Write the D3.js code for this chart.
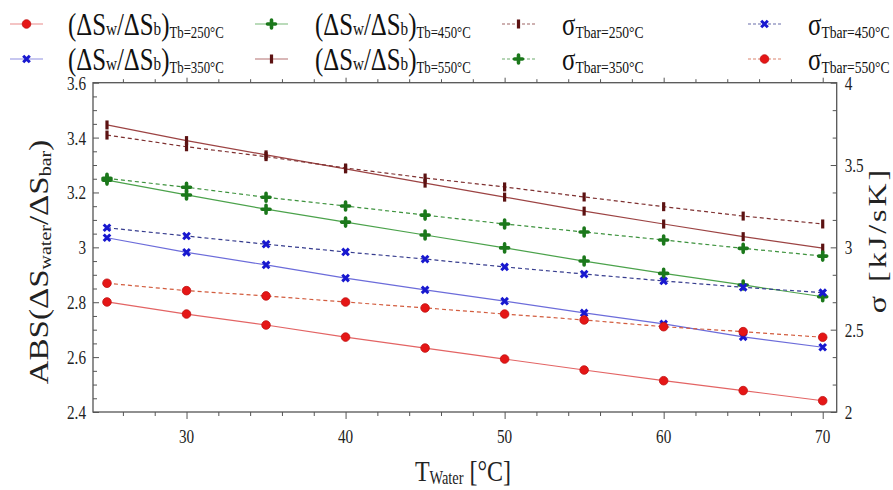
<!DOCTYPE html>
<html><head><meta charset="utf-8">
<script src="https://cdn.jsdelivr.net/npm/d3@7"></script>
<style>body{margin:0;background:#fff} svg{display:block}</style>
</head><body><svg id="c" width="893" height="490"></svg>
<script>
const temps = [25,30,35,40,45,50,55,60,65,70];
const ratioTb250 = [2.801,2.757,2.717,2.673,2.633,2.593,2.553,2.514,2.478,2.441];
const ratioTb350 = [3.035,2.982,2.936,2.888,2.845,2.804,2.761,2.721,2.674,2.636];
const ratioTb450 = [3.245,3.191,3.139,3.092,3.045,2.998,2.950,2.905,2.863,2.820];
const ratioTb550 = [3.446,3.389,3.337,3.286,3.234,3.183,3.132,3.085,3.039,2.997];
const sigma250 = [3.682,3.611,3.551,3.482,3.421,3.367,3.306,3.247,3.190,3.142];
const sigma350 = [3.419,3.365,3.304,3.251,3.196,3.142,3.093,3.045,2.994,2.947];
const sigma450 = [3.119,3.069,3.019,2.972,2.929,2.881,2.838,2.796,2.757,2.725];
const sigma550 = [2.782,2.737,2.705,2.668,2.632,2.595,2.559,2.518,2.488,2.454];
const xTickLabels = [30,40,50,60,70];
const leftTickLabels = [2.4,2.6,2.8,3,3.2,3.4,3.6];
const rightTickLabels = [2,2.5,3,3.5,4];

const FONT = '"Liberation Serif","Times New Roman","DejaVu Serif",serif';
const SX = 0.8;
const svg = d3.select('#c');
const L = 93, R = 836.7, T = 82.7, B = 412;
const x = d3.scaleLinear().domain([24.12, 70.88]).range([L, R]);
const yL = d3.scaleLinear().domain([2.4, 3.6]).range([B, T]);
const yR = d3.scaleLinear().domain([2, 4]).range([B, T]);

const series = [
  {vals: ratioTb250, axis: 'L', line: '#e36464', mc: '#e51616', m: 'circle', dash: false, sub: 'Tb=250°C', kind: 'ds'},
  {vals: ratioTb350, axis: 'L', line: '#6c6cda', mc: '#1818cf', m: 'x', dash: false, sub: 'Tb=350°C', kind: 'ds'},
  {vals: ratioTb450, axis: 'L', line: '#4ba24b', mc: '#1b781b', m: 'plus', dash: false, sub: 'Tb=450°C', kind: 'ds'},
  {vals: ratioTb550, axis: 'L', line: '#9c4343', mc: '#5c1212', m: 'bar', dash: false, sub: 'Tb=550°C', kind: 'ds'},
  {vals: sigma250, axis: 'R', line: '#7e3030', mc: '#5c1212', m: 'bar', dash: true, sub: 'Tbar=250°C', kind: 's'},
  {vals: sigma350, axis: 'R', line: '#3d923d', mc: '#1b781b', m: 'plus', dash: true, sub: 'Tbar=350°C', kind: 's'},
  {vals: sigma450, axis: 'R', line: '#363c8e', mc: '#1818cf', m: 'x', dash: true, sub: 'Tbar=450°C', kind: 's'},
  {vals: sigma550, axis: 'R', line: '#d25c3e', mc: '#e51616', m: 'circle', dash: true, sub: 'Tbar=550°C', kind: 's'}
];

function marker(g, type, color) {
  if (type === 'circle') g.append('circle').attr('r', 4.3).attr('fill', color).attr('stroke', d3.color(color).darker(0.5)).attr('stroke-width', 0.8);
  else if (type === 'x') g.append('path').attr('d', 'M-3.3,-3.3L3.3,3.3M-3.3,3.3L3.3,-3.3').attr('stroke', color).attr('stroke-width', 3).attr('fill', 'none');
  else if (type === 'plus') g.append('path').attr('d', 'M-4,0H4M0,-4V4').attr('stroke', color).attr('stroke-width', 3.6).attr('stroke-linecap', 'round').attr('fill', 'none');
  else g.append('rect').attr('x', -1.6).attr('y', -4.5).attr('width', 3.2).attr('height', 9).attr('fill', color);
}

// axes ticks
function ax(gen, tr) {
  const g = svg.append('g').attr('transform', tr).call(gen);
  g.select('.domain').remove();
  g.selectAll('line').attr('stroke', '#555').attr('stroke-width', 1);
  return g;
}
const xMaj = xTickLabels, xMin = d3.range(26, 71, 2).filter(v => v % 10 !== 0);
ax(d3.axisBottom(x).tickValues(xMaj).tickSize(7).tickFormat(''), `translate(0,${B})`);
ax(d3.axisBottom(x).tickValues(xMin).tickSize(4).tickFormat(''), `translate(0,${B})`);
ax(d3.axisTop(x).tickValues(xMaj).tickSize(5).tickFormat(''), `translate(0,${T})`);
ax(d3.axisTop(x).tickValues(xMin).tickSize(3.5).tickFormat(''), `translate(0,${T})`);
const lMin = d3.range(0, 25).map(i => 2.4 + i * 0.05).filter(v => Math.abs(v * 5 - Math.round(v * 5)) > 1e-6);
ax(d3.axisLeft(yL).tickValues(leftTickLabels).tickSize(-6).tickFormat(''), `translate(${L},0)`);
ax(d3.axisLeft(yL).tickValues(lMin).tickSize(-4).tickFormat(''), `translate(${L},0)`);
const rMin = d3.range(0, 13).map(i => 2 + i / 6).filter(v => Math.abs(v * 2 - Math.round(v * 2)) > 1e-6);
ax(d3.axisRight(yR).tickValues(rightTickLabels).tickSize(-6).tickFormat(''), `translate(${R},0)`);
ax(d3.axisRight(yR).tickValues(rMin).tickSize(-4).tickFormat(''), `translate(${R},0)`);

svg.append('rect').attr('x', L).attr('y', T).attr('width', R - L).attr('height', B - T)
  .attr('fill', 'none').attr('stroke', '#555').attr('stroke-width', 1.3);

// tick labels
function lbl(px, py, txt, anchor, size) {
  svg.append('g').attr('transform', `translate(${px},${py}) scale(${SX},1)`)
    .append('text').attr('text-anchor', anchor).attr('font-family', FONT).attr('font-size', size)
    .attr('fill', '#222').text(txt);
}
xTickLabels.forEach(v => lbl(x(v), 443, String(v), 'middle', 19));
leftTickLabels.forEach(v => lbl(L - 7, yL(v) + 7, String(v), 'end', 19));
rightTickLabels.forEach(v => lbl(R + 8, yR(v) + 7, String(v), 'start', 19));

// lines and markers
const plot = svg.append('g');
series.forEach(s => {
  const y = s.axis === 'L' ? yL : yR;
  const line = d3.line().x((d, i) => x(temps[i])).y(d => y(d));
  plot.append('path').datum(s.vals).attr('d', line).attr('fill', 'none')
    .attr('stroke', s.line).attr('stroke-width', 1.2).attr('stroke-dasharray', s.dash ? '4,3' : null);
});
series.forEach(s => {
  const y = s.axis === 'L' ? yL : yR;
  s.vals.forEach((v, i) => {
    const g = plot.append('g').attr('transform', `translate(${x(temps[i])},${y(v)})`);
    marker(g, s.m, s.mc);
  });
});

// legend
const cols = [[10, 43, 68], [255, 288, 315], [502, 535, 562], [748, 781, 808]];
const rows = [24, 59];
series.forEach((s, i) => {
  const c = cols[Math.floor(i / 2)], ry = rows[i % 2];
  svg.append('line').attr('x1', c[0]).attr('x2', c[1]).attr('y1', ry).attr('y2', ry)
    .attr('stroke', s.line).attr('stroke-width', 1.2).attr('stroke-dasharray', s.dash ? '3,2' : null).attr('opacity', 0.75);
  marker(svg.append('g').attr('transform', `translate(${(c[0] + c[1]) / 2},${ry})`), s.m, s.mc);
  const t = svg.append('g').attr('transform', `translate(${c[2]},${ry + 11}) scale(${SX},1)`)
    .append('text').attr('font-family', FONT).attr('fill', '#111');
  if (s.kind === 'ds') {
    t.append('tspan').attr('font-size', 31).text('(ΔS');
    t.append('tspan').attr('font-size', 19).text('w');
    t.append('tspan').attr('font-size', 31).text('/ΔS');
    t.append('tspan').attr('font-size', 19).text('b');
    t.append('tspan').attr('font-size', 31).text(')');
    t.append('tspan').attr('font-size', 16).attr('dy', 3).text(s.sub);
  } else {
    t.append('tspan').attr('font-size', 31).text('σ');
    t.append('tspan').attr('font-size', 17).attr('dy', 3).text(s.sub);
  }
});

// axis titles
const xl = svg.append('g').attr('transform', `translate(463,481) scale(${SX},1)`)
  .append('text').attr('font-family', FONT).attr('text-anchor', 'middle').attr('fill', '#222');
xl.append('tspan').attr('font-size', 30).text('T');
xl.append('tspan').attr('font-size', 18).attr('dy', 3).text('Water');
xl.append('tspan').attr('font-size', 30).attr('dy', -3).text(' [°C]');

const yl = svg.append('g').attr('transform', `translate(48,262) scale(${SX},1) rotate(-90)`)
  .append('text').attr('font-family', FONT).attr('text-anchor', 'middle').attr('fill', '#222');
yl.append('tspan').attr('font-size', 33).text('ABS(ΔS');
yl.append('tspan').attr('font-size', 20).attr('dy', 4).text('water');
yl.append('tspan').attr('font-size', 33).attr('dy', -4).text('/ΔS');
yl.append('tspan').attr('font-size', 20).attr('dy', 4).text('bar');
yl.append('tspan').attr('font-size', 33).attr('dy', -4).text(')');

svg.append('g').attr('transform', `translate(886,240) scale(${SX},1) rotate(-90)`)
  .append('text').attr('font-family', FONT).attr('text-anchor', 'middle').attr('fill', '#222')
  .attr('font-size', 32).attr('letter-spacing', 3).text('σ [kJ/sK]');
</script></body></html>
